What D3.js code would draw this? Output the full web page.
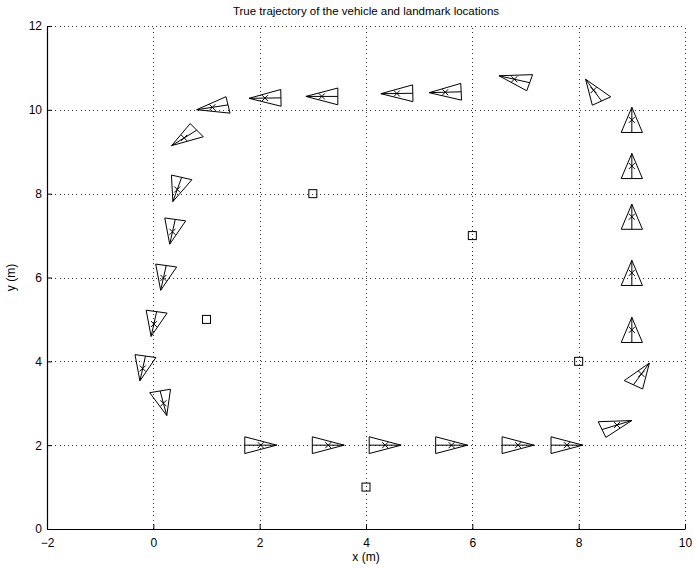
<!DOCTYPE html>
<html>
<head>
<meta charset="utf-8">
<script src="https://cdn.jsdelivr.net/npm/d3@7"></script>
<style>
  html, body { margin: 0; padding: 0; background: #fff; }
  svg { display: block; }
  text { font-family: "Liberation Sans", Arial, Helvetica, sans-serif; fill: #000; }
</style>
</head>
<body>
<svg id="chart" width="694" height="569"></svg>
<script>
// Vehicle poses along the true trajectory: position (m) and heading (deg)
const poseX = [2.02, 3.29, 4.36, 5.61, 6.86, 7.78,
               8.72, 9.18, 9.00, 9.00, 9.00, 9.00, 9.00, 8.28,
               6.79, 5.49, 4.58, 3.17, 2.10, 1.11, 0.58,
               0.45, 0.36, 0.19, 0.01, -0.20, 0.19];
const poseY = [2.00, 2.00, 2.00, 2.00, 2.00, 2.00,
               2.48, 3.70, 4.75, 6.11, 7.45, 8.66, 9.76, 10.47,
               10.73, 10.42, 10.39, 10.32, 10.28, 10.06, 9.33,
               8.10, 7.09, 5.99, 4.89, 3.83, 3.00];
const poseHeading = [0, 0, 0, 0, 0, 0,
                     21, 60, 90, 90, 90, 90, 90, 120,
                     164, 182, 181, 180, 181, 191, 218,
                     254, 260, 260, 260, 260, 282];

// Landmark locations (m)
const landmarkX = [3, 6, 1, 8, 4];
const landmarkY = [8, 7, 5, 4, 1];

// Axis ticks
const xTicks = [-2, 0, 2, 4, 6, 8, 10];
const yTicks = [0, 2, 4, 6, 8, 10, 12];

// Layout
const margin = { left: 47, right: 9, top: 26, bottom: 40 };
const W = 694, H = 569;
const svg = d3.select("#chart");

const x = d3.scaleLinear().domain([-2, 10]).range([margin.left, W - margin.right]);
const y = d3.scaleLinear().domain([0, 12]).range([H - margin.bottom, margin.top]);

// Vehicle glyph size in data units
const HALF_LEN = 0.3, HALF_WID = 0.2;

// Dotted grid
const grid = svg.append("g").attr("stroke", "#333").attr("stroke-width", 1)
  .attr("stroke-dasharray", "1,3.2").attr("shape-rendering", "crispEdges");
grid.selectAll("line.gx").data(xTicks.slice(1)).join("line")
  .attr("x1", d => Math.round(x(d)) + 0.5).attr("x2", d => Math.round(x(d)) + 0.5)
  .attr("y1", y(0)).attr("y2", y(12));
grid.selectAll("line.gy").data(yTicks.slice(1)).join("line")
  .attr("x1", x(-2)).attr("x2", x(10))
  .attr("y1", d => Math.round(y(d)) + 0.5).attr("y2", d => Math.round(y(d)) + 0.5);

// Axes (ticks point inward)
const xAxis = d3.axisBottom(x).tickValues(xTicks).tickSizeInner(-5).tickSizeOuter(0)
  .tickPadding(9).tickFormat(d => d < 0 ? "\u2212" + Math.abs(d) : d);
const gx = svg.append("g").attr("transform", `translate(0,${y(0)})`).call(xAxis);
const yAxis = d3.axisLeft(y).tickValues(yTicks).tickSizeInner(-5).tickSizeOuter(0).tickPadding(5);
const gy = svg.append("g").attr("transform", `translate(${x(-2)},0)`).call(yAxis);
[gx, gy].forEach(g => {
  g.select(".domain").attr("stroke", "#000").attr("stroke-width", 1.2);
  g.selectAll(".tick line").attr("stroke", "#000");
  g.selectAll(".tick text").attr("font-size", 12).attr("font-family", "Liberation Sans, Arial, sans-serif");
});

// Vehicles: triangle, centre line and position marker
const poses = poseX.map((px, i) => ({ x: px, y: poseY[i], th: poseHeading[i] * Math.PI / 180 }));
const veh = svg.append("g").attr("fill", "none").attr("stroke", "#000").attr("stroke-width", 1);
poses.forEach(p => {
  const c = Math.cos(p.th), s = Math.sin(p.th);
  const apex = [p.x + HALF_LEN * c, p.y + HALF_LEN * s];
  const bm = [p.x - HALF_LEN * c, p.y - HALF_LEN * s];
  const b1 = [bm[0] - HALF_WID * s, bm[1] + HALF_WID * c];
  const b2 = [bm[0] + HALF_WID * s, bm[1] - HALF_WID * c];
  const pts = [apex, b1, b2].map(q => [x(q[0]), y(q[1])]);
  veh.append("path").attr("d", "M" + pts.map(q => q.join(",")).join("L") + "Z");
  veh.append("line").attr("x1", x(apex[0])).attr("y1", y(apex[1]))
    .attr("x2", x(bm[0])).attr("y2", y(bm[1]));
  const cx = x(p.x), cy = y(p.y), m = 3;
  veh.append("path").attr("d", `M${cx - m},${cy - m}L${cx + m},${cy + m}M${cx - m},${cy + m}L${cx + m},${cy - m}`);
});

// Landmarks as squares
svg.append("g").selectAll("rect").data(landmarkX.map((lx, i) => [lx, landmarkY[i]])).join("rect")
  .attr("x", d => x(d[0]) - 4).attr("y", d => y(d[1]) - 4)
  .attr("width", 8).attr("height", 8)
  .attr("fill", "none").attr("stroke", "#000").attr("stroke-width", 1);

// Labels
svg.append("text").attr("x", (x(-2) + x(10)) / 2).attr("y", 15).attr("text-anchor", "middle")
  .attr("font-size", 11.5).text("True trajectory of the vehicle and landmark locations");
svg.append("text").attr("x", (x(-2) + x(10)) / 2).attr("y", 561).attr("text-anchor", "middle")
  .attr("font-size", 12).text("x (m)");
svg.append("text").attr("transform", `translate(15,${(y(0) + y(12)) / 2}) rotate(-90)`)
  .attr("text-anchor", "middle").attr("font-size", 12).text("y (m)");
</script>
</body>
</html>
